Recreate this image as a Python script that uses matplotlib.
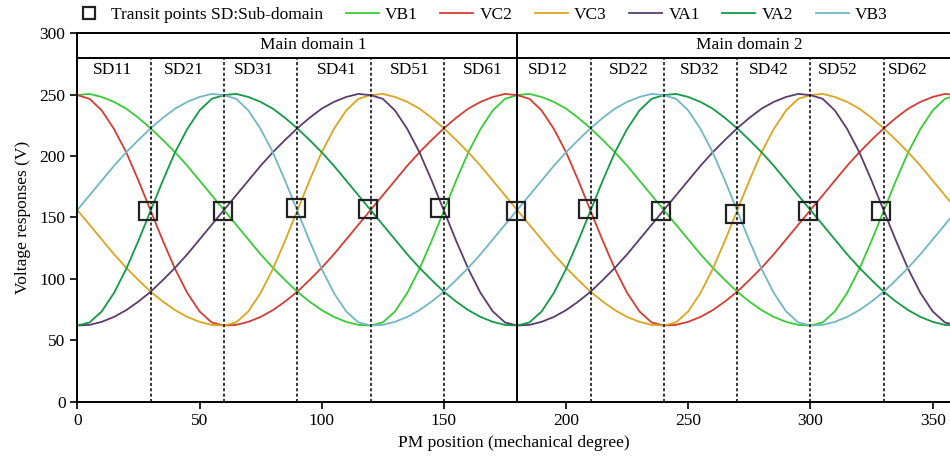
import numpy as np
import matplotlib
matplotlib.use('Agg')
import matplotlib.pyplot as plt

plt.rcParams['font.family'] = ['Liberation Serif', 'DejaVu Serif']
plt.rcParams['font.size'] = 12.5

# PM position, every 5 mechanical degrees
pos = np.arange(0, 361, 5)

# voltage readings (V), one list per coil
VB1 = [249.5, 250.5, 248, 244, 238.5, 231, 222.5, 213, 203, 192, 180, 168, 156, 144, 132, 120, 109, 99,
       89.5, 81.5, 74.5, 69, 65, 62.5, 62, 64.5, 73.5, 88.5, 108, 131, 155.5, 180, 203, 222, 237, 246.5,
       249.5, 250.5, 248, 244, 238.5, 231, 222.5, 213, 203, 192, 180, 168, 156, 144, 132, 120, 109, 99,
       89.5, 81.5, 74.5, 69, 65, 62.5, 62, 64.5, 73.5, 88.5, 108, 131, 155.5, 180, 203, 222, 237, 246.5,
       249.5]
VC2 = [249.5, 246.5, 237, 222, 203, 180, 155.5, 131, 108, 88.5, 73.5, 64.5, 62, 62.5, 65, 69, 74.5, 81.5,
       89.5, 99, 109, 120, 132, 144, 156, 168, 180, 192, 203, 213, 222.5, 231, 238.5, 244, 248, 250.5,
       249.5, 246.5, 237, 222, 203, 180, 155.5, 131, 108, 88.5, 73.5, 64.5, 62, 62.5, 65, 69, 74.5, 81.5,
       89.5, 99, 109, 120, 132, 144, 156, 168, 180, 192, 203, 213, 222.5, 231, 238.5, 244, 248, 250.5,
       249.5]
VC3 = [156, 144, 132, 120, 109, 99, 89.5, 81.5, 74.5, 69, 65, 62.5, 62, 64.5, 73.5, 88.5, 108, 131,
       155.5, 180, 203, 222, 237, 246.5, 249.5, 250.5, 248, 244, 238.5, 231, 222.5, 213, 203, 192, 180, 168,
       156, 144, 132, 120, 109, 99, 89.5, 81.5, 74.5, 69, 65, 62.5, 62, 64.5, 73.5, 88.5, 108, 131,
       155.5, 180, 203, 222, 237, 246.5, 249.5, 250.5, 248, 244, 238.5, 231, 222.5, 213, 203, 192, 180, 168,
       156]
VA1 = [62, 62.5, 65, 69, 74.5, 81.5, 89.5, 99, 109, 120, 132, 144, 156, 168, 180, 192, 203, 213,
       222.5, 231, 238.5, 244, 248, 250.5, 249.5, 246.5, 237, 222, 203, 180, 155.5, 131, 108, 88.5, 73.5, 64.5,
       62, 62.5, 65, 69, 74.5, 81.5, 89.5, 99, 109, 120, 132, 144, 156, 168, 180, 192, 203, 213,
       222.5, 231, 238.5, 244, 248, 250.5, 249.5, 246.5, 237, 222, 203, 180, 155.5, 131, 108, 88.5, 73.5, 64.5,
       62]
VA2 = [62, 64.5, 73.5, 88.5, 108, 131, 155.5, 180, 203, 222, 237, 246.5, 249.5, 250.5, 248, 244, 238.5, 231,
       222.5, 213, 203, 192, 180, 168, 156, 144, 132, 120, 109, 99, 89.5, 81.5, 74.5, 69, 65, 62.5,
       62, 64.5, 73.5, 88.5, 108, 131, 155.5, 180, 203, 222, 237, 246.5, 249.5, 250.5, 248, 244, 238.5, 231,
       222.5, 213, 203, 192, 180, 168, 156, 144, 132, 120, 109, 99, 89.5, 81.5, 74.5, 69, 65, 62.5,
       62]
VB3 = [156, 168, 180, 192, 203, 213, 222.5, 231, 238.5, 244, 248, 250.5, 249.5, 246.5, 237, 222, 203, 180,
       155.5, 131, 108, 88.5, 73.5, 64.5, 62, 62.5, 65, 69, 74.5, 81.5, 89.5, 99, 109, 120, 132, 144,
       156, 168, 180, 192, 203, 213, 222.5, 231, 238.5, 244, 248, 250.5, 249.5, 246.5, 237, 222, 203, 180,
       155.5, 131, 108, 88.5, 73.5, 64.5, 62, 62.5, 65, 69, 74.5, 81.5, 89.5, 99, 109, 120, 132, 144,
       156]

# transit points (squares)
transit_x = [29, 59.5, 89.5, 119, 148.5, 179.5, 209, 239, 269, 299, 329]
transit_y = [155, 155, 157.5, 157, 157.5, 155, 157, 155, 153, 155.3, 155.5]

# sub-domain boundaries and labels
sd_bounds = [30, 60, 90, 120, 150, 210, 240, 270, 300, 330]
sd_names = ['SD11', 'SD21', 'SD31', 'SD41', 'SD51', 'SD61',
            'SD12', 'SD22', 'SD32', 'SD42', 'SD52', 'SD62']
sd_label_x = [14.5, 43.5, 72, 106, 136, 166, 192.5, 225.5, 254.5, 283, 311, 340]
main_names = ['Main domain 1', 'Main domain 2']
main_label_x = [96.5, 275]

series = [('VB1', VB1, '#37cc37'), ('VC2', VC2, '#d43d33'), ('VC3', VC3, '#daa520'),
          ('VA1', VA1, '#5a3d6e'), ('VA2', VA2, '#139a46'), ('VB3', VB3, '#72b6c6')]

fig = plt.figure(figsize=(9.5, 4.66), dpi=100)
ax = fig.add_axes([0.0814, 0.138, 0.9186, 0.791])

for name, vals, col in series:
    ax.plot(pos, vals, color=col, lw=1.3, label=name)

ax.plot(transit_x, transit_y, 's', ms=12.5, mfc='none', mec='#222222', mew=1.6,
        label='Transit points SD:Sub-domain', zorder=5)

# domain grid
ax.vlines(sd_bounds, 0, 280, colors='black', linestyles=(0, (2, 1.5)), lw=1.1)
ax.axvline(180, color='black', lw=1.4)
ax.axhline(280, color='black', lw=1.4)
for nm, xx in zip(sd_names, sd_label_x):
    ax.text(xx, 270, nm, ha='center', va='center')
for nm, xx in zip(main_names, main_label_x):
    ax.text(xx, 290, nm, ha='center', va='center')

ax.set_xlim(0, 357.1)
ax.set_ylim(0, 300)
ax.set_xticks(np.arange(0, 351, 50))
ax.set_yticks(np.arange(0, 301, 50))
ax.spines['right'].set_visible(False)
for s in ['left', 'bottom', 'top']:
    ax.spines[s].set_linewidth(1.4)
ax.tick_params(direction='out', length=5, width=1.2)
ax.set_xlabel('PM position (mechanical degree)', labelpad=4)
ax.set_ylabel('Voltage responses (V)', labelpad=6)

h, l = ax.get_legend_handles_labels()
order = [6, 0, 1, 2, 3, 4, 5]
fig.legend([h[i] for i in order], [l[i] for i in order], loc='center', ncol=7,
           bbox_to_anchor=(0.505, 0.968), frameon=False, handlelength=1.9,
           handletextpad=0.35, columnspacing=1.3, markerscale=0.65, borderaxespad=0)

fig.savefig('out.png', dpi=100)
